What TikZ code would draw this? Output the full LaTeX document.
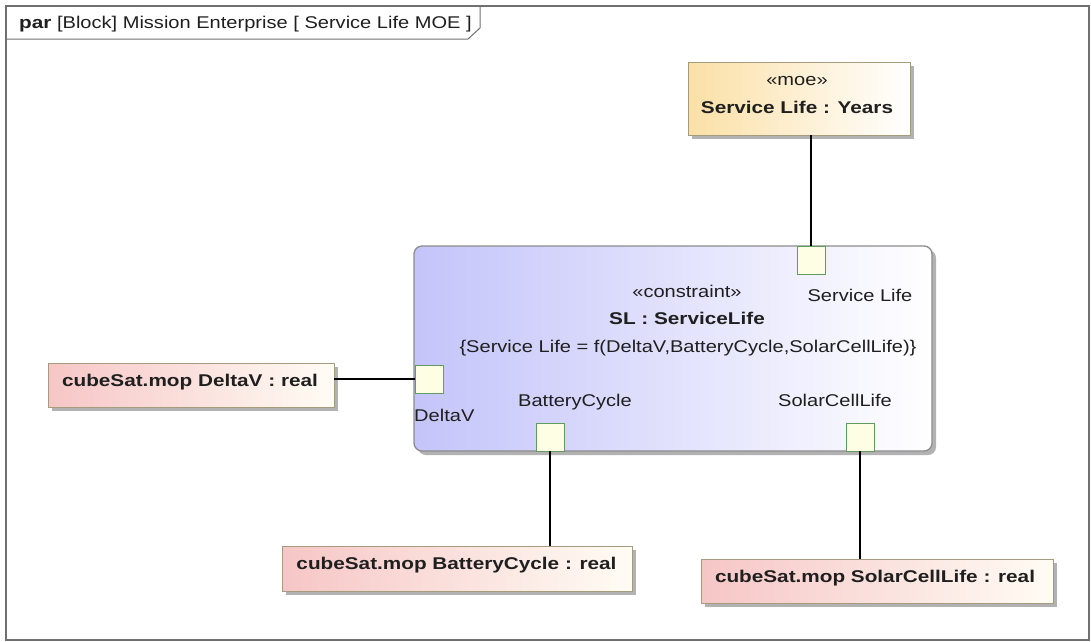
\documentclass[tikz,border=0pt]{standalone}
\usepackage{fontspec}
\setmainfont[FakeStretch=1.18,BoldFeatures={FakeStretch=1.22}]{Liberation Sans}
\usepackage{tikz}
\usetikzlibrary{shadows}
\definecolor{frameGray}{RGB}{112,112,112}
\definecolor{boxLine}{RGB}{165,155,125}
\definecolor{cLine}{RGB}{140,140,140}
\definecolor{moeFill}{RGB}{251,224,166}
\definecolor{mopFill}{RGB}{246,198,198}
\definecolor{mopEnd}{RGB}{255,252,244}
\definecolor{cFill}{RGB}{196,196,250}
\definecolor{portFill}{RGB}{254,254,228}
\definecolor{portLine}{RGB}{96,156,96}

\begin{document}
\begin{tikzpicture}[x=1pt,y=-1pt,
    txt/.style={inner sep=0pt,anchor=base,text=black!88,font=\fontsize{17}{20}\selectfont},
    box/.style={draw=boxLine,line width=1pt,inner sep=0pt,outer sep=0pt,
      drop shadow={shadow xshift=4pt,shadow yshift=-4pt,fill=black,opacity=.3}},
    moebox/.style={box,left color=moeFill,right color=white},
    mopbox/.style={box,left color=mopFill,right color=mopEnd},
    cbox/.style={box,draw=cLine,line width=1.3pt,rounded corners=8pt,left color=cFill,right color=white},
    port/.style={draw=portLine,fill=portFill,line width=1pt,minimum width=28pt,minimum height=28pt,inner sep=0pt,outer sep=0pt},
    wire/.style={draw=black,line width=1.1pt}]
      \useasboundingbox (0,0) rectangle (1091,641);

      % frame and its name tab
      \draw[frameGray, line width=2pt] (6,6) rectangle (1089,640);
      \draw[frameGray, line width=1pt] (6,39) -- (468,39) -- (480,28) -- (480,6);
      \node[txt, anchor=base west] (title) at (19,28) {\textbf{par} [Block] Mission Enterprise [ Service Life MOE ]};

      % moe
      \node[moebox, minimum width=222pt, minimum height=73pt] (moe) at (799,98.5) {};
      \node[txt] (moeStereo) at (797,85) {«moe»};
      \node[txt] (moeName) at (797,113) {\textbf{Service Life : Years}};

      % constraint block
      \node[cbox, minimum width=518pt, minimum height=205pt] (slBlock) at (673,348.5) {};
      \node[txt] (slStereo) at (687,297) {«constraint»};
      \node[txt] (slName) at (687,324) {\textbf{SL : ServiceLife}};
      \node[txt] (slBody) at (688,352) {\{Service Life = f(DeltaV,BatteryCycle,SolarCellLife)\}};

      % ports
      \node[port] (pServiceLife) at (811,260) {};
      \node[port] (pDeltaV) at (429,379) {};
      \node[port] (pBattery) at (550,437) {};
      \node[port] (pSolar) at (860,437) {};
      \node[txt] (lServiceLife) at (860,301) {Service Life};
      \node[txt, anchor=base west] (lDeltaV) at (414,421) {DeltaV};
      \node[txt] (lBattery) at (575,406) {BatteryCycle};
      \node[txt] (lSolar) at (835,406) {SolarCellLife};

      % mop parts
      \node[mopbox, minimum width=286pt, minimum height=44pt] (mopDeltaV) at (191,385) {};
      \node[txt] (tDeltaV) at (190,386) {\textbf{cubeSat.mop DeltaV : real}};
      \node[mopbox, minimum width=350pt, minimum height=45pt] (mopBattery) at (457,568.5) {};
      \node[txt] (tBattery) at (456.5,569) {\textbf{cubeSat.mop BatteryCycle : real}};
      \node[mopbox, minimum width=352pt, minimum height=44pt] (mopSolar) at (877,581) {};
      \node[txt] (tSolar) at (875,582) {\textbf{cubeSat.mop SolarCellLife : real}};

      % binding connectors
      \draw[wire] (moe.south -| pServiceLife) -- (pServiceLife.north);
      \draw[wire] (mopDeltaV.east |- pDeltaV) -- (pDeltaV.west);
      \draw[wire] (pBattery.south) -- (pBattery.south |- mopBattery.north);
      \draw[wire] (pSolar.south) -- (pSolar.south |- mopSolar.north);
\end{tikzpicture}
\end{document}
